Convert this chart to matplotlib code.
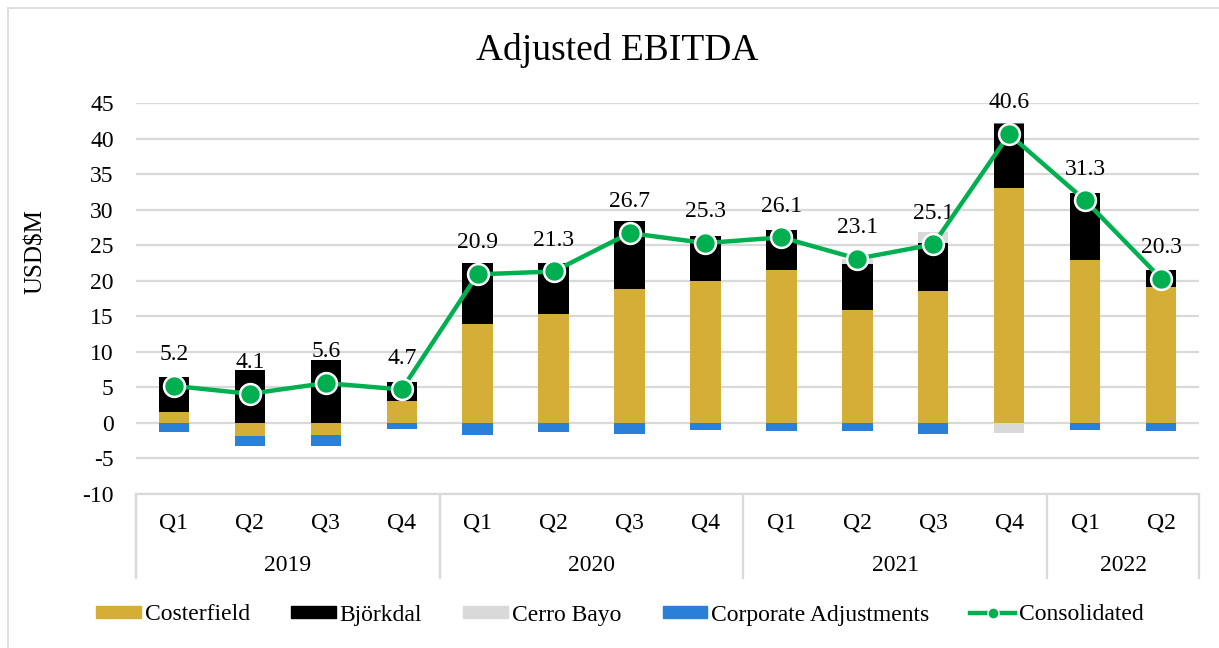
import numpy as np
import matplotlib
matplotlib.use("Agg")
import matplotlib.pyplot as plt
from matplotlib.lines import Line2D
from matplotlib.patches import Patch
from matplotlib import transforms

plt.rcParams['font.family'] = ['Liberation Serif', 'DejaVu Serif']
plt.rcParams['axes.unicode_minus'] = False

quarters = ['Q1', 'Q2', 'Q3', 'Q4', 'Q1', 'Q2', 'Q3', 'Q4', 'Q1', 'Q2', 'Q3', 'Q4', 'Q1', 'Q2']
years = ['2019', '2020', '2021', '2022']
year_sizes = [4, 4, 4, 2]

costerfield = [1.5, -1.9, -1.7, 3.1, 13.9, 15.3, 18.8, 20.0, 21.5, 15.9, 18.5, 33.0, 22.9, 19.1]
bjorkdal = [5.0, 7.4, 8.8, 2.6, 8.6, 7.2, 9.6, 6.3, 5.7, 6.5, 6.8, 9.0, 9.4, 2.4]
cerro_bayo = [0, 0, 0, 0, 0, 0, 0, 0, 0, 0.7, 1.5, -1.4, 0, 0]
corporate = [-1.3, -1.4, -1.5, -0.9, -1.7, -1.3, -1.6, -1.0, -1.2, -1.1, -1.6, 0.2, -1.0, -1.2]
consolidated = [5.2, 4.1, 5.6, 4.7, 20.9, 21.3, 26.7, 25.3, 26.1, 23.1, 25.1, 40.6, 31.3, 20.3]

series = [
    ('Costerfield', costerfield, '#d4ae37'),
    ('Björkdal', bjorkdal, '#000000'),
    ('Cerro Bayo', cerro_bayo, '#d9d9d9'),
    ('Corporate Adjustments', corporate, '#2a7fd6'),
]

fs = 17

fig = plt.figure(figsize=(12.19, 6.48), dpi=100)
ax = fig.add_axes([136/1219, 1-494/648, (1199-136)/1219, (494-103)/648])

x = np.arange(len(quarters))
pos_base = np.zeros(len(x))
neg_base = np.zeros(len(x))
for name, vals, col in series:
    v = np.array(vals, dtype=float)
    bottoms = np.where(v >= 0, pos_base, neg_base)
    ax.bar(x, v, 0.4, bottom=bottoms, color=col, zorder=2)
    pos_base += np.where(v >= 0, v, 0)
    neg_base += np.where(v < 0, v, 0)

ax.plot(x, consolidated, color='#00b050', lw=3.2, marker='o', ms=15,
        markerfacecolor='#00b050', markeredgecolor='white', markeredgewidth=1.8, zorder=4)
for xi, v in zip(x, consolidated):
    ax.annotate(f'{v:.1f}', (xi, v), xytext=(0, 15), textcoords='offset points',
                ha='center', va='bottom', fontsize=fs)

ax.set_xlim(-0.5, len(x) - 0.5)
ax.set_ylim(-10, 45)
ax.set_yticks(np.arange(-10, 46, 5))
ax.tick_params(axis='y', length=0, pad=16, labelsize=fs)
ax.set_xticks([])
ax.grid(axis='y', color='#d9d9d9', lw=1.6, zorder=0)
ax.set_axisbelow(True)
for s in ax.spines.values():
    s.set_visible(False)
ax.axhline(-10, color='#d9d9d9', lw=1.6, clip_on=False)
fig.text(36/1219, 1-252/648, 'USD$M', rotation=90, ha='center', va='center', fontsize=18)

# grouped category axis
trans = transforms.blended_transform_factory(ax.transData, ax.transAxes)
for xi, q in zip(x, quarters):
    ax.text(xi, -0.074, q, transform=trans, ha='center', va='center', fontsize=fs)
start = 0
ax.plot([-0.5, -0.5], [0, -0.215], transform=trans, color='#d9d9d9', lw=1.6, clip_on=False)
for yr, n in zip(years, year_sizes):
    ax.text(start + (n - 1) / 2, -0.182, yr, transform=trans, ha='center', va='center', fontsize=fs)
    end = start + n - 0.5
    ax.plot([end, end], [0, -0.215], transform=trans, color='#d9d9d9', lw=1.6, clip_on=False)
    start += n

fig.text(617/1219, 1-50/648, 'Adjusted EBITDA', ha='center', va='center', fontsize=27)

handles = [Patch(color=c, label=n) for n, _, c in series]
handles.append(Line2D([], [], color='#00b050', lw=3.2, marker='o', ms=8,
                      markerfacecolor='#00b050', markeredgecolor='white', label='Consolidated'))
fig.legend(handles=handles, loc='center', bbox_to_anchor=(620/1219, 1-615/648), ncol=5,
           frameon=False, fontsize=fs, handlelength=1.9, handleheight=0.45,
           handletextpad=0.15, columnspacing=1.75)

# outer chart border
fig.add_artist(Line2D([8/1219, 8/1219], [0, 1-8/648], color='#d9d9d9', lw=1.2))
fig.add_artist(Line2D([8/1219, 1], [1-8/648, 1-8/648], color='#d9d9d9', lw=1.2))

fig.savefig('out.png', dpi=100)
